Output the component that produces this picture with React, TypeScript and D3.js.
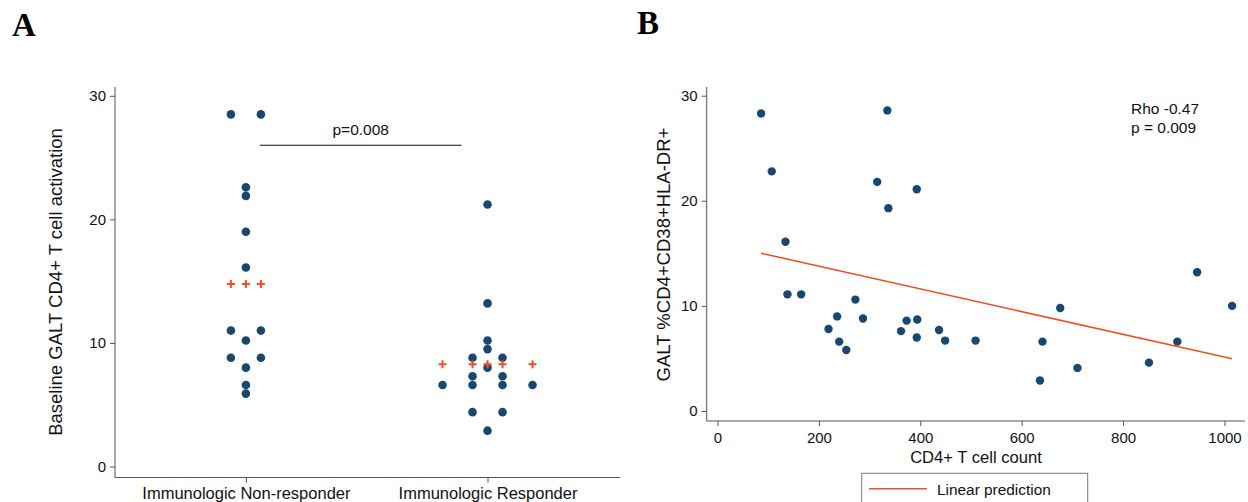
import { useEffect, useRef } from "react";
import * as d3 from "d3";

// Panel A: dot plot of baseline activation by group
const groupsA = ["Immunologic Non-responder", "Immunologic Responder"];
const nonResponderValues = [28.5, 28.5, 22.6, 21.9, 19.0, 16.1, 11.0, 11.0, 10.2, 8.8, 8.8, 8.0, 6.6, 5.9];
const nonResponderSlots = [-1, 1, 0, 0, 0, 0, -1, 1, 0, -1, 1, 0, 0, 0];
const responderValues = [21.2, 13.2, 10.2, 9.5, 8.8, 8.8, 8.0, 7.3, 7.3, 6.6, 6.6, 6.6, 6.6, 4.4, 4.4, 2.9];
const responderSlots = [0, 0, 0, 0, -1, 1, 0, -1, 1, -3, -1, 1, 3, -1, 1, 0];
const meanSlots = [[-1, 0, 1], [-3, -1, 0, 1, 3]];
const yTicksA = [0, 10, 20, 30];
const pTextA = "p=0.008";
const pLevelA = 26;

// Panel B: activation vs CD4 count
const cd4Count = [86, 107, 134, 138, 165, 219, 236, 240, 254, 272, 287, 315, 335, 337, 362,
  373, 393, 394, 393, 437, 449, 509, 636, 641, 676, 710, 851, 907, 946, 1015];
const galtActivation = [28.3, 22.8, 16.1, 11.1, 11.1, 7.8, 9.0, 6.6, 5.8, 10.6, 8.8, 21.8, 28.6, 19.3, 7.6,
  8.6, 21.1, 8.7, 7.0, 7.7, 6.7, 6.7, 2.9, 6.6, 9.8, 4.1, 4.6, 6.6, 13.2, 10.0];
const xTicksB = [0, 200, 400, 600, 800, 1000];
const yTicksB = [0, 10, 20, 30];
const statsB = ["Rho -0.47", "p = 0.009"];

const NAVY = "#1a476f";
const ORANGE = "#ef4f23";
const AXIS = "#555";
const FONT = "'Liberation Sans', Arial, Helvetica, sans-serif";

export default function App() {
  const svgRef = useRef<SVGSVGElement>(null);

  useEffect(() => {
    if (!svgRef.current) return;
    const svg = d3.select(svgRef.current);
    svg.selectAll("*").remove();
    svg.attr("font-family", FONT);

    // ---------- Panel A ----------
    svg.append("text").attr("x", 12).attr("y", 36)
      .attr("font-family", "'Liberation Serif', 'Times New Roman', serif")
      .attr("font-weight", "bold").attr("font-size", 33).text("A");

    const xA = d3.scalePoint<string>().domain(groupsA).range([115, 620]).padding(0.545).align(0.497);
    const yA = d3.scaleLinear().domain([0, 30]).range([466.5, 95.8]);
    const slot = d3.scaleLinear().domain([-1, 1]).range([-15, 15]);

    const gA = svg.append("g");
    const ayA = gA.append("g").attr("transform", "translate(115,0)")
      .call(d3.axisLeft(yA).tickValues(yTicksA).tickSize(5).tickSizeOuter(0).tickPadding(4));
    const axA = gA.append("g").attr("transform", "translate(0,477.5)")
      .call(d3.axisBottom(xA).tickSize(5).tickSizeOuter(0).tickPadding(5));
    [ayA, axA].forEach(ax => {
      ax.select(".domain").remove();
      ax.selectAll("line").attr("stroke", AXIS);
      ax.selectAll("text").attr("fill", "#111").attr("font-family", FONT);
    });
    ayA.selectAll("text").attr("font-size", 15);
    axA.selectAll("text").attr("font-size", 16.5);
    gA.append("line").attr("x1", 115).attr("x2", 115).attr("y1", 87).attr("y2", 477.5)
      .attr("stroke", AXIS);
    gA.append("line").attr("x1", 115).attr("x2", 620).attr("y1", 477.5).attr("y2", 477.5)
      .attr("stroke", AXIS);

    gA.append("text").attr("transform", "translate(61.5,282) rotate(-90)")
      .attr("text-anchor", "middle").attr("font-size", 18.5).attr("fill", "#111")
      .text("Baseline GALT CD4+ T cell activation");

    const ptsA = [
      ...nonResponderValues.map((v, i) => ({ g: groupsA[0], v, s: nonResponderSlots[i] })),
      ...responderValues.map((v, i) => ({ g: groupsA[1], v, s: responderSlots[i] })),
    ];
    gA.selectAll("circle.dot").data(ptsA).enter().append("circle")
      .attr("cx", d => (xA(d.g) as number) + slot(d.s))
      .attr("cy", d => yA(d.v))
      .attr("r", 4.3).attr("fill", NAVY);

    const means = [d3.mean(nonResponderValues) as number, d3.mean(responderValues) as number];
    const crosses = groupsA.flatMap((g, gi) => meanSlots[gi].map(s => ({ g, s, v: means[gi] })));
    gA.selectAll("path.mean").data(crosses).enter().append("path")
      .attr("transform", d => `translate(${(xA(d.g) as number) + slot(d.s)},${yA(d.v)})`)
      .attr("d", "M-4,0H4M0,-4V4").attr("stroke", ORANGE).attr("stroke-width", 2);

    const pX1 = (xA(groupsA[0]) as number) + 14;
    const pX2 = (xA(groupsA[1]) as number) - 26;
    gA.append("line").attr("x1", pX1).attr("x2", pX2)
      .attr("y1", yA(pLevelA)).attr("y2", yA(pLevelA)).attr("stroke", "#111").attr("stroke-width", 1.2);
    gA.append("text").attr("x", (pX1 + pX2) / 2).attr("y", yA(pLevelA) - 10)
      .attr("text-anchor", "middle").attr("font-size", 15.5).attr("fill", "#111").text(pTextA);

    // ---------- Panel B ----------
    svg.append("text").attr("x", 637).attr("y", 34)
      .attr("font-family", "'Liberation Serif', 'Times New Roman', serif")
      .attr("font-weight", "bold").attr("font-size", 33).text("B");

    const xB = d3.scaleLinear().domain([0, 1000]).range([717.5, 1224.5]);
    const yB = d3.scaleLinear().domain([0, 30]).range([411, 95.7]);
    const gB = svg.append("g");
    const ayB = gB.append("g").attr("transform", "translate(706.7,0)")
      .call(d3.axisLeft(yB).tickValues(yTicksB).tickSize(5).tickSizeOuter(0).tickPadding(4));
    const axB = gB.append("g").attr("transform", "translate(0,421)")
      .call(d3.axisBottom(xB).tickValues(xTicksB).tickSize(5).tickSizeOuter(0).tickPadding(6)
        .tickFormat(d3.format("d")));
    [ayB, axB].forEach(ax => {
      ax.select(".domain").remove();
      ax.selectAll("line").attr("stroke", AXIS);
      ax.selectAll("text").attr("fill", "#111").attr("font-family", FONT).attr("font-size", 15);
    });
    gB.append("line").attr("x1", 706.7).attr("x2", 706.7).attr("y1", 87).attr("y2", 421)
      .attr("stroke", AXIS);
    gB.append("line").attr("x1", 706.7).attr("x2", 1245).attr("y1", 421).attr("y2", 421)
      .attr("stroke", AXIS);

    gB.append("text").attr("transform", "translate(669.5,254.5) rotate(-90)")
      .attr("text-anchor", "middle").attr("font-size", 18.5).attr("fill", "#111")
      .text("GALT %CD4+CD38+HLA-DR+");
    gB.append("text").attr("x", 976).attr("y", 462.5)
      .attr("text-anchor", "middle").attr("font-size", 16.6).attr("fill", "#111")
      .text("CD4+ T cell count");

    const ptsB = cd4Count.map((x, i) => ({ x, y: galtActivation[i] }));

    // least-squares linear prediction
    const mx = d3.mean(cd4Count) as number;
    const my = d3.mean(galtActivation) as number;
    const sxy = d3.sum(ptsB, d => (d.x - mx) * (d.y - my));
    const sxx = d3.sum(ptsB, d => (d.x - mx) ** 2);
    const slope = sxy / sxx;
    const intercept = my - slope * mx;
    const [xmin, xmax] = d3.extent(cd4Count) as [number, number];
    const fit = [xmin, xmax].map(x => ({ x, y: intercept + slope * x }));
    const line = d3.line<{ x: number; y: number }>().x(d => xB(d.x)).y(d => yB(d.y));
    gB.append("path").attr("d", line(fit)).attr("fill", "none")
      .attr("stroke", ORANGE).attr("stroke-width", 1.5);

    gB.selectAll("circle.dot").data(ptsB).enter().append("circle")
      .attr("cx", d => xB(d.x)).attr("cy", d => yB(d.y))
      .attr("r", 4.2).attr("fill", NAVY);

    gB.selectAll("text.stat").data(statsB).enter().append("text")
      .attr("x", 1131).attr("y", (_, i) => 114.3 + i * 19)
      .attr("font-size", 15.5).attr("fill", "#111").text(d => d);

    // legend
    const lg = gB.append("g");
    lg.append("rect").attr("x", 861.7).attr("y", 473.3).attr("width", 226).attr("height", 40)
      .attr("fill", "#fff").attr("stroke", "#777").attr("stroke-width", 1);
    lg.append("line").attr("x1", 869).attr("x2", 927).attr("y1", 488.7).attr("y2", 488.7)
      .attr("stroke", ORANGE).attr("stroke-width", 1.5);
    lg.append("text").attr("x", 937).attr("y", 494.5).attr("font-size", 15.4).attr("fill", "#111")
      .text("Linear prediction");
  }, []);

  return (
    <div>
      <style>{"body{margin:0;background:#fff}"}</style>
      <svg ref={svgRef} width={1248} height={502} style={{ display: "block" }}></svg>
    </div>
  );
}
